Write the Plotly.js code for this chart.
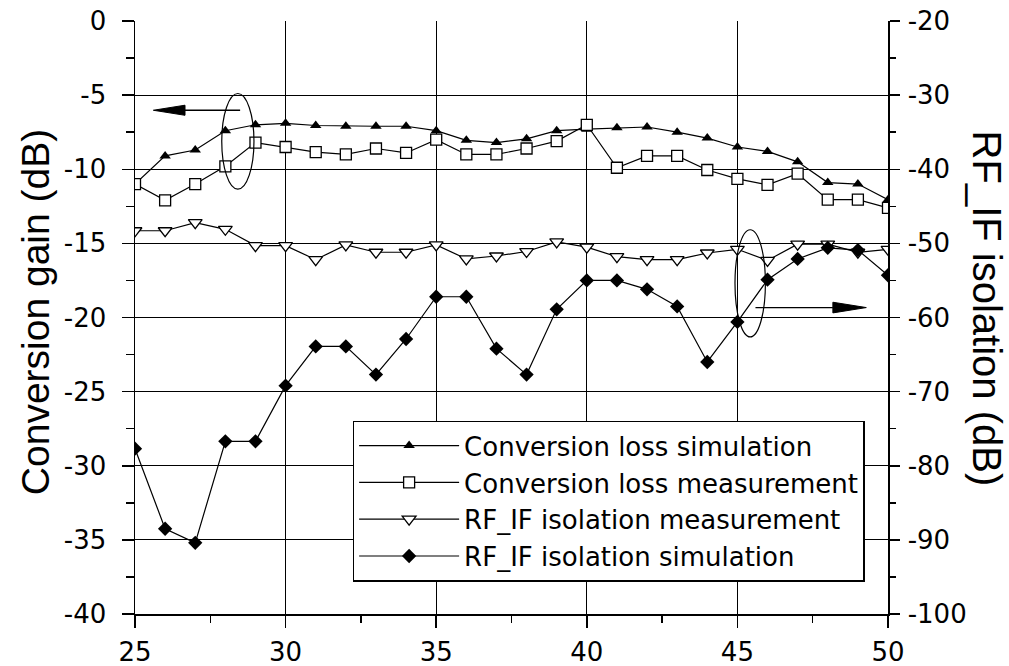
<!DOCTYPE html>
<html>
<head>
<meta charset="utf-8">
<script src="https://cdn.plot.ly/plotly-3.0.1.min.js"></script>
<style>html,body{margin:0;padding:0;background:#fff;}#chart{width:1009px;height:666px;}</style>
</head>
<body>
<div id="chart"></div>
<script>
// Frequency (GHz) on the x axis
const freq = [25,26,27,28,29,30,31,32,33,34,35,36,37,38,39,40,41,42,43,44,45,46,47,48,49,50];

// Left axis: conversion gain (dB)
const convLossSim  = [-11.0,-9.1,-8.7,-7.4,-7.0,-6.9,-7.05,-7.1,-7.1,-7.1,-7.4,-8.05,-8.2,-7.95,-7.4,-7.3,-7.2,-7.15,-7.5,-7.9,-8.5,-8.8,-9.5,-10.9,-11.0,-12.05];
const convLossMeas = [-11.0,-12.1,-11.0,-9.8,-8.2,-8.5,-8.85,-9.0,-8.6,-8.9,-8.0,-9.0,-9.0,-8.6,-8.1,-7.0,-9.9,-9.1,-9.1,-10.05,-10.65,-11.05,-10.3,-12.05,-12.05,-12.6];

// Right axis: RF_IF isolation (dB)
const isoMeas = [-48.3,-48.3,-47.2,-48.1,-50.3,-50.3,-52.2,-50.2,-51.2,-51.2,-50.2,-52.1,-51.7,-51.1,-49.8,-50.5,-51.8,-52.2,-52.2,-51.3,-50.8,-52.3,-50.1,-50.1,-51.2,-50.8];
const isoSim  = [-77.7,-88.5,-90.4,-76.7,-76.7,-69.2,-63.9,-63.9,-67.7,-62.9,-57.2,-57.2,-64.2,-67.7,-58.9,-55.0,-55.0,-56.2,-58.5,-66.0,-60.6,-54.9,-52.1,-50.6,-50.9,-54.3];

// Tick labels
const xTickVals  = [25,30,35,40,45,50];
const xTickText  = ["25","30","35","40","45","50"];
const yTickVals  = [0,-5,-10,-15,-20,-25,-30,-35,-40];
const yTickText  = ["0","-5","-10","-15","-20","-25","-30","-35","-40"];
const y2TickVals = [-20,-30,-40,-50,-60,-70,-80,-90,-100];
const y2TickText = ["-20","-30","-40","-50","-60","-70","-80","-90","-100"];

const seriesNames = ["Conversion loss simulation","Conversion loss measurement","RF_IF isolation measurement","RF_IF isolation simulation"];
const leftTitle = "Conversion gain (dB)";
const rightTitle = "RF_IF isolation (dB)";

// Callout marks (ellipses + arrows), in left-axis data units
const ellipseLeft  = {x0:27.88, x1:28.95, y0:-11.34, y1:-4.89};
const ellipseRight = {x0:44.92, x1:45.93, y0:-21.31, y1:-14.08};
const arrowLeft  = {tail:28.49, base:26.66, tip:25.61, y:-6.02, half:0.34};
const arrowRight = {tail:45.6,  base:48.17, tip:49.28, y:-19.33, half:0.36};

const FONT = "DejaVu Sans, Verdana, sans-serif";
const TITLE_FONT = "Liberation Sans, Arial, sans-serif";
const lineStyle = {color:"black", width:1.2};

const traces = [
  {x:freq, y:convLossSim, name:seriesNames[0], mode:"lines+markers", line:lineStyle,
   marker:{symbol:"triangle-up", size:10, color:"black"}},
  {x:freq, y:convLossMeas, name:seriesNames[1], mode:"lines+markers", line:lineStyle,
   marker:{symbol:"square", size:11, color:"white", line:{color:"black", width:1.3}}},
  {x:freq, y:isoMeas, name:seriesNames[2], mode:"lines+markers", line:lineStyle, yaxis:"y2",
   marker:{symbol:"triangle-down", size:12, color:"white", line:{color:"black", width:1.3}}},
  {x:freq, y:isoSim, name:seriesNames[3], mode:"lines+markers", line:lineStyle, yaxis:"y2",
   marker:{symbol:"diamond", size:11, color:"black"}}
];

function arrowShapes(a){
  return [
    {type:"line", xref:"x", yref:"y", x0:a.tail, x1:a.base, y0:a.y, y1:a.y, line:{color:"black", width:1.3}},
    {type:"path", xref:"x", yref:"y",
     path:`M ${a.tip},${a.y} L ${a.base},${a.y + a.half} L ${a.base},${a.y - a.half} Z`,
     fillcolor:"black", line:{color:"black", width:1}}
  ];
}

const shapes = [
  Object.assign({type:"circle", xref:"x", yref:"y", line:{color:"black", width:1.2}}, ellipseLeft),
  Object.assign({type:"circle", xref:"x", yref:"y", line:{color:"black", width:1.2}}, ellipseRight),
  ...arrowShapes(arrowLeft),
  ...arrowShapes(arrowRight)
];

const axisCommon = {
  ticks:"outside", ticklen:12, tickwidth:1.5, tickcolor:"black",
  showline:true, linecolor:"black", linewidth:1.5,
  showgrid:true, gridcolor:"black", gridwidth:1.2,
  zeroline:false, tickmode:"array",
  tickfont:{family:FONT, size:26, color:"black"}
};

const layout = {
  width:1009, height:666,
  margin:{l:135, r:121, t:21, b:52},
  paper_bgcolor:"white", plot_bgcolor:"white",
  font:{family:FONT, color:"black"},
  showlegend:true,
  legend:{x:0.289, y:0.326, xanchor:"left", yanchor:"top",
    bgcolor:"white", bordercolor:"black", borderwidth:1.5,
    font:{family:FONT, size:26, color:"black"}, itemwidth:100, tracegroupgap:0},
  xaxis:Object.assign({}, axisCommon, {range:[25,50], tickvals:xTickVals, ticktext:xTickText, gridwidth:1, ticklabelstandoff:2,
    minor:{tickmode:"linear", tick0:25, dtick:2.5, ticks:"outside", ticklen:7, tickwidth:1.5, tickcolor:"black", showgrid:false}}),
  yaxis:Object.assign({}, axisCommon, {range:[-40,0], tickvals:yTickVals, ticktext:yTickText, ticklabelstandoff:10,
    minor:{tickmode:"linear", tick0:0, dtick:2.5, ticks:"outside", ticklen:8, tickwidth:1.5, tickcolor:"black", showgrid:false}}),
  yaxis2:Object.assign({}, axisCommon, {range:[-100,-20], tickvals:y2TickVals, ticktext:y2TickText, overlaying:"y", side:"right", showgrid:false,
    ticklen:10, ticklabelstandoff:3,
    minor:{tickmode:"linear", tick0:-20, dtick:5, ticks:"outside", ticklen:6, tickwidth:1.5, tickcolor:"black", showgrid:false}}),
  shapes:shapes,
  annotations:[
    {text:leftTitle, xref:"paper", yref:"paper", x:-0.1328, y:0.509, xanchor:"center", yanchor:"middle",
     textangle:-90, showarrow:false, font:{family:TITLE_FONT, size:39, color:"black"}},
    {text:rightTitle, xref:"paper", yref:"paper", x:1.1315, y:0.515, xanchor:"center", yanchor:"middle",
     textangle:90, showarrow:false, font:{family:TITLE_FONT, size:40, color:"black"}}
  ]
};

Plotly.newPlot("chart", traces, layout, {displayModeBar:false, staticPlot:true});
</script>
</body>
</html>
